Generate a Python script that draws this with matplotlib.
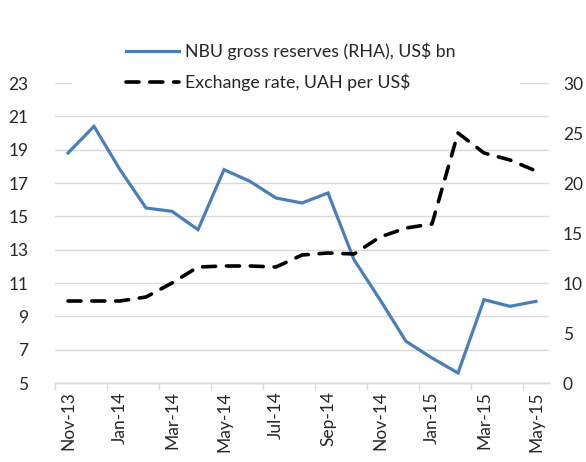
import matplotlib
matplotlib.use("Agg")
import matplotlib.pyplot as plt
from matplotlib.patches import Rectangle

months = ["Nov-13", "Dec-13", "Jan-14", "Feb-14", "Mar-14", "Apr-14", "May-14", "Jun-14",
          "Jul-14", "Aug-14", "Sep-14", "Oct-14", "Nov-14", "Dec-14", "Jan-15", "Feb-15",
          "Mar-15", "Apr-15", "May-15"]
reserves = [18.8, 20.4, 17.8, 15.5, 15.3, 14.2, 17.8, 17.1, 16.1, 15.8, 16.4, 12.4,
            10.0, 7.5, 6.5, 5.6, 10.0, 9.6, 9.9]
exchange = [8.2, 8.2, 8.2, 8.6, 10.0, 11.6, 11.7, 11.7, 11.6, 12.8, 13.0, 12.9,
            14.6, 15.5, 15.9, 25.0, 23.0, 22.3, 21.2]
label_every = 2
left_ticks = [5, 7, 9, 11, 13, 15, 17, 19, 21, 23]
right_ticks = [0, 5, 10, 15, 20, 25, 30]

FONT = ["Lato", "DejaVu Sans"]
plt.rcParams['font.family'] = FONT
TXT = "#262626"
GRID = "#d9d9d9"
FS = 12.5

fig = plt.figure(figsize=(5.86, 4.62), dpi=100)
ax = fig.add_axes([55/586, 1 - 383/462, (549-55)/586, (383-83)/462])
ax2 = ax.twinx()

x = list(range(len(months)))
ax.plot(x, reserves, color="#4A7EBB", lw=2.3, solid_joinstyle="miter", zorder=3,
        label="NBU gross reserves (RHA), US$ bn")
ax2.plot(x, exchange, color="black", lw=2.6, linestyle=(0, (3.6, 3.0)),
         dash_capstyle="round", zorder=3, label="Exchange rate, UAH per US$")

ax.set_xlim(-0.5, len(months) - 0.5)
ax.set_ylim(5, 23)
ax2.set_ylim(0, 30)
ax.set_yticks(left_ticks)
ax2.set_yticks(right_ticks)
ax.grid(axis="y", color=GRID, lw=1)
ax.set_axisbelow(True)

ax.set_xticks(x[::label_every])
ax.set_xticklabels(months[::label_every], rotation=90, fontsize=FS, color=TXT)
ax.tick_params(axis="x", length=0, pad=6)
ax.set_xticks([i - 0.5 for i in range(0, len(months) + 1, label_every)], minor=True)
ax.tick_params(axis="x", which="minor", length=5, color=GRID, width=1)

ax.tick_params(axis="y", length=0, labelsize=FS, labelcolor=TXT, pad=19)
ax2.tick_params(axis="y", length=0, labelsize=FS, labelcolor=TXT, pad=10)

for a in (ax, ax2):
    for s in ("top", "left", "right"):
        a.spines[s].set_visible(False)
    a.spines["bottom"].set_color(GRID)
    a.spines["bottom"].set_linewidth(1)

fig.patches.append(Rectangle((72/586, 1 - 95/462), (520-72)/586, 60/462,
                             transform=fig.transFigure, facecolor="white",
                             edgecolor="none", zorder=2))
h1, l1 = ax.get_legend_handles_labels()
h2, l2 = ax2.get_legend_handles_labels()
leg = fig.legend(h1 + h2, l1 + l2, loc="upper left",
                 bbox_to_anchor=(110/586, 1 - 27/462), frameon=False,
                 fontsize=12.8, handlelength=3.0, handletextpad=0.3,
                 labelspacing=0.75, labelcolor=TXT)
leg.set_zorder(5)

fig.savefig("out.png", dpi=100)
